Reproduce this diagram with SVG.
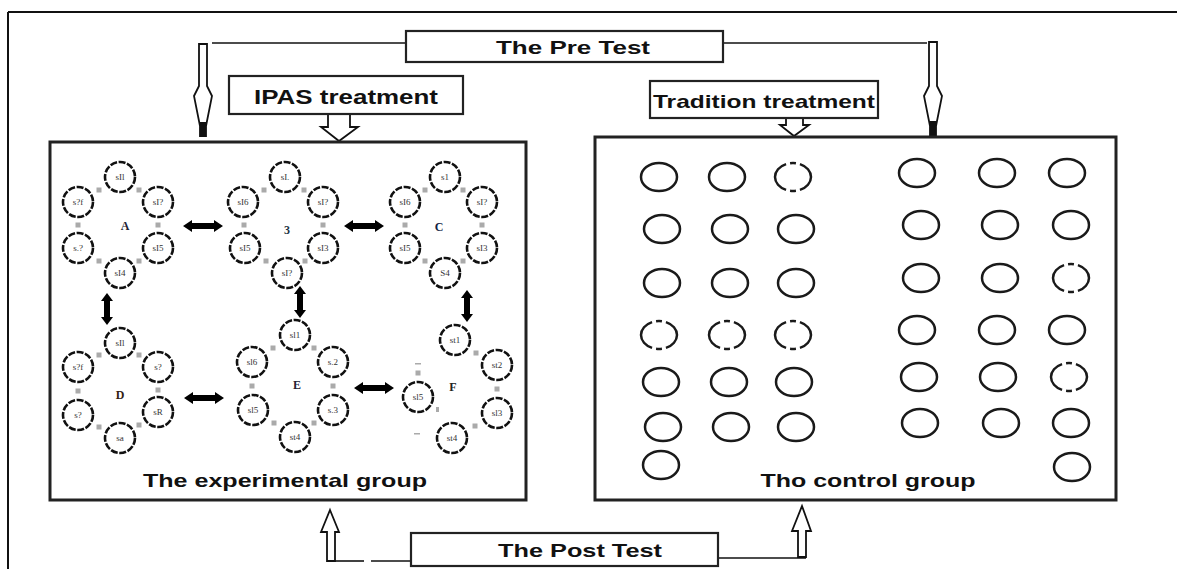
<svg xmlns="http://www.w3.org/2000/svg" width="1177" height="569" viewBox="0 0 1177 569">
<style>
.frame{fill:none;stroke:#111;stroke-width:2}
.box{fill:#fff;stroke:#222;stroke-width:2.2}
.grp{fill:none;stroke:#222;stroke-width:3}
.lbl{font-family:"Liberation Sans",Arial,sans-serif;font-weight:bold;fill:#111}
.hollow{fill:#fff;stroke:#111;stroke-width:1.8;stroke-linejoin:miter}
.line{fill:none;stroke:#111;stroke-width:1.6}
.stu{fill:#fff;stroke:#111;stroke-width:2.6;stroke-dasharray:7 1.6}
.sl{font-family:"Liberation Serif","Times New Roman",serif;font-size:9px;fill:#333;text-anchor:middle}
.let{font-family:"Liberation Serif","Times New Roman",serif;font-size:12px;font-weight:bold;text-anchor:middle}
.gs{fill:#aaa}
.dbl{fill:#000}
.ctl{fill:none;stroke:#1a1a1a;stroke-width:2.5}
.dash{stroke-dasharray:18 4 6 4 36 4 6 4 18}
</style>
<defs>
<path id="hdbl" d="M-20,0 L-11,-6 L-11,-3 L11,-3 L11,-6 L20,0 L11,6 L11,3 L-11,3 L-11,6 Z"/>
<path id="vdbl" d="M0,-16 L-6,-8 L-3,-8 L-3,8 L-6,8 L0,16 L6,8 L3,8 L3,-8 L6,-8 Z"/>
<rect id="sq" x="-2.5" y="-2.5" width="5" height="5"/>
</defs>
<rect width="1177" height="569" fill="#fff"/>
<g id="frame">
<line class="frame" x1="8" y1="12" x2="1177" y2="12"/>
<line class="frame" x1="8" y1="12" x2="8" y2="569"/>
</g>

<g id="connectors">
<polyline class="line" points="406,43 212,43"/>
<polyline class="line" points="723,43 927,43"/>
<polygon class="hollow" points="199,44 207,44 207,86 212,96 206,126 206,136 200,136 200,126 194,96 199,86"/>
<rect x="200" y="122" width="6" height="14" fill="#111"/>
<polygon class="hollow" points="929,42 937,42 937,86 942,96 936,126 936,135 930,135 930,126 924,96 929,86"/>
<rect x="930" y="121" width="6" height="14" fill="#111"/>
<polygon class="hollow" points="328,114 350,114 350,127 358,127 339,141 321,127 328,127"/>
<polygon class="hollow" points="786,118 803,118 803,125 809,125 794,136 780,125 786,125"/>
<polygon class="hollow" points="330,510 339,532 335,532 335,561 327,561 327,532 321,532"/>
<polygon class="hollow" points="802,506 811,531 806,531 806,557 798,557 798,531 792,531"/>
<polyline class="line" points="335,561 364,561"/>
<polyline class="line" points="371,561 411,561"/>
<polyline class="line" points="718,558 806,558"/>
<use href="#hdbl" class="dbl" x="203" y="226"/>
<use href="#hdbl" class="dbl" x="364" y="226"/>
<use href="#hdbl" class="dbl" x="204" y="398"/>
<use href="#hdbl" class="dbl" x="374" y="388"/>
<use href="#vdbl" class="dbl" x="107" y="309"/>
<use href="#vdbl" class="dbl" x="300" y="302"/>
<use href="#vdbl" class="dbl" x="467" y="306"/>
</g>

<g id="pre-test">
<rect class="box" x="406" y="31" width="317" height="31"/>
<text class="lbl" x="573" y="54" font-size="19" text-anchor="middle" textLength="154" lengthAdjust="spacingAndGlyphs">The Pre Test</text>
</g>
<g id="ipas-treatment">
<rect class="box" x="229" y="76" width="234" height="38"/>
<text class="lbl" x="346" y="104" font-size="20" text-anchor="middle" textLength="184" lengthAdjust="spacingAndGlyphs">IPAS treatment</text>
</g>
<g id="tradition-treatment">
<rect class="box" x="650" y="81" width="228" height="37"/>
<text class="lbl" x="764" y="108" font-size="19" font-weight="normal" text-anchor="middle" textLength="222" lengthAdjust="spacingAndGlyphs" style="font-weight:600">Tradition treatment</text>
</g>
<g id="post-test">
<rect class="box" x="411" y="533" width="307" height="33"/>
<text class="lbl" x="580" y="557" font-size="19" text-anchor="middle" textLength="164" lengthAdjust="spacingAndGlyphs">The Post Test</text>
</g>

<g id="experimental-group">
<rect class="grp" x="50" y="142" width="476" height="358"/>
<text class="lbl" x="285" y="487" font-size="19" text-anchor="middle" textLength="284" lengthAdjust="spacingAndGlyphs">The experimental group</text>
</g>

<g id="cluster-A">
<g class="gs"><use href="#sq" x="139" y="190"/><use href="#sq" x="158" y="225"/><use href="#sq" x="139" y="261"/><use href="#sq" x="99" y="261"/><use href="#sq" x="78" y="225"/><use href="#sq" x="99" y="190"/></g>
<circle class="stu" cx="120" cy="177" r="15"/><circle class="stu" cx="158" cy="202" r="15"/><circle class="stu" cx="158" cy="248" r="15"/><circle class="stu" cx="120" cy="273" r="15"/><circle class="stu" cx="78" cy="248" r="15"/><circle class="stu" cx="78" cy="202" r="15"/>
<text class="sl" x="120" y="180">sIl</text><text class="sl" x="158" y="205">sI?</text><text class="sl" x="158" y="251">sI5</text><text class="sl" x="120" y="276">sI4</text><text class="sl" x="78" y="251">s.?</text><text class="sl" x="78" y="205">s?f</text>
<text class="let" x="125" y="230" fill="#223">A</text>
</g>
<g id="cluster-B">
<g class="gs"><use href="#sq" x="304" y="190"/><use href="#sq" x="323" y="225"/><use href="#sq" x="305" y="261"/><use href="#sq" x="266" y="261"/><use href="#sq" x="244" y="225"/><use href="#sq" x="264" y="190"/></g>
<circle class="stu" cx="285" cy="177" r="15"/><circle class="stu" cx="323" cy="202" r="15"/><circle class="stu" cx="323" cy="248" r="15"/><circle class="stu" cx="287" cy="273" r="15"/><circle class="stu" cx="245" cy="248" r="15"/><circle class="stu" cx="243" cy="202" r="15"/>
<text class="sl" x="285" y="180">sI.</text><text class="sl" x="323" y="205">sI?</text><text class="sl" x="323" y="251">sI3</text><text class="sl" x="287" y="276">sI?</text><text class="sl" x="245" y="251">sI5</text><text class="sl" x="243" y="205">sI6</text>
<text class="let" x="287" y="234" fill="#234">3</text>
</g>
<g id="cluster-C">
<g class="gs"><use href="#sq" x="463" y="190"/><use href="#sq" x="482" y="225"/><use href="#sq" x="463" y="261"/><use href="#sq" x="425" y="261"/><use href="#sq" x="405" y="225"/><use href="#sq" x="425" y="190"/></g>
<circle class="stu" cx="445" cy="177" r="15"/><circle class="stu" cx="482" cy="202" r="15"/><circle class="stu" cx="482" cy="248" r="15"/><circle class="stu" cx="445" cy="273" r="15"/><circle class="stu" cx="405" cy="248" r="15"/><circle class="stu" cx="405" cy="202" r="15"/>
<text class="sl" x="445" y="180">s1</text><text class="sl" x="482" y="205">sI?</text><text class="sl" x="482" y="251">sI3</text><text class="sl" x="445" y="276">S4</text><text class="sl" x="405" y="251">sI5</text><text class="sl" x="405" y="205">sI6</text>
<text class="let" x="439" y="231" fill="#124">C</text>
</g>
<g id="cluster-D">
<g class="gs"><use href="#sq" x="139" y="355"/><use href="#sq" x="158" y="390"/><use href="#sq" x="139" y="425"/><use href="#sq" x="99" y="427"/><use href="#sq" x="78" y="391"/><use href="#sq" x="99" y="355"/></g>
<circle class="stu" cx="120" cy="343" r="15"/><circle class="stu" cx="158" cy="367" r="15"/><circle class="stu" cx="158" cy="412" r="15"/><circle class="stu" cx="120" cy="438" r="15"/><circle class="stu" cx="78" cy="415" r="15"/><circle class="stu" cx="78" cy="367" r="15"/>
<text class="sl" x="120" y="346">sIl</text><text class="sl" x="158" y="370">s?</text><text class="sl" x="158" y="415">sR</text><text class="sl" x="120" y="441">sa</text><text class="sl" x="78" y="418">s?</text><text class="sl" x="78" y="370">s?f</text>
<text class="let" x="120" y="399" fill="#321">D</text>
</g>
<g id="cluster-E">
<g class="gs"><use href="#sq" x="314" y="348"/><use href="#sq" x="333" y="386"/><use href="#sq" x="314" y="423"/><use href="#sq" x="274" y="423"/><use href="#sq" x="252" y="386"/><use href="#sq" x="273" y="348"/></g>
<circle class="stu" cx="295" cy="335" r="15"/><circle class="stu" cx="333" cy="362" r="15"/><circle class="stu" cx="333" cy="410" r="15"/><circle class="stu" cx="295" cy="437" r="15"/><circle class="stu" cx="253" cy="410" r="15"/><circle class="stu" cx="252" cy="362" r="15"/>
<text class="sl" x="295" y="338">sl1</text><text class="sl" x="333" y="365">s.2</text><text class="sl" x="333" y="413">s.3</text><text class="sl" x="295" y="440">st4</text><text class="sl" x="253" y="413">sl5</text><text class="sl" x="252" y="365">sl6</text>
<text class="let" x="297" y="389" fill="#223">E</text>
</g>
<g id="cluster-F">
<g class="gs"><use href="#sq" x="476" y="353"/><use href="#sq" x="497" y="389"/><use href="#sq" x="475" y="426"/><use href="#sq" x="418" y="373"/><rect x="415" y="363" width="6" height="1.5"/><rect x="436" y="407" width="3" height="5"/><rect x="414" y="433" width="6" height="1.5"/></g>
<circle class="stu" cx="455" cy="340" r="15"/><circle class="stu" cx="497" cy="365" r="15"/><circle class="stu" cx="497" cy="413" r="15"/><circle class="stu" cx="452" cy="438" r="15"/><circle class="stu" cx="418" cy="397" r="15"/>
<text class="sl" x="455" y="343">st1</text><text class="sl" x="497" y="368">st2</text><text class="sl" x="497" y="416">sl3</text><text class="sl" x="452" y="441">st4</text><text class="sl" x="418" y="400">sl5</text>
<text class="let" x="453" y="391" fill="#222">F</text>
</g>

<g id="control-group">
<rect class="grp" x="595" y="137" width="521" height="363"/>
<text class="lbl" x="868" y="487" font-size="19" text-anchor="middle" textLength="215" lengthAdjust="spacingAndGlyphs">Tho control group</text>
<g id="control-students">
<ellipse class="ctl" cx="659" cy="177" rx="18" ry="14"/><ellipse class="ctl" cx="727" cy="177" rx="18" ry="14"/><ellipse class="ctl dash" pathLength="100" cx="793" cy="177" rx="18" ry="14"/>
<ellipse class="ctl" cx="662" cy="229" rx="18" ry="14"/><ellipse class="ctl" cx="730" cy="229" rx="18" ry="14"/><ellipse class="ctl" cx="796" cy="229" rx="18" ry="14"/>
<ellipse class="ctl" cx="662" cy="283" rx="18" ry="14"/><ellipse class="ctl" cx="730" cy="283" rx="18" ry="14"/><ellipse class="ctl" cx="796" cy="283" rx="18" ry="14"/>
<ellipse class="ctl dash" pathLength="100" cx="659" cy="335" rx="18" ry="14"/><ellipse class="ctl dash" pathLength="100" cx="727" cy="335" rx="18" ry="14"/><ellipse class="ctl dash" pathLength="100" cx="793" cy="335" rx="18" ry="14"/>
<ellipse class="ctl" cx="661" cy="382" rx="18" ry="14"/><ellipse class="ctl" cx="729" cy="382" rx="18" ry="14"/><ellipse class="ctl" cx="794" cy="382" rx="18" ry="14"/>
<ellipse class="ctl" cx="663" cy="427" rx="18" ry="14"/><ellipse class="ctl" cx="731" cy="427" rx="18" ry="14"/><ellipse class="ctl" cx="796" cy="427" rx="18" ry="14"/>
<ellipse class="ctl" cx="661" cy="465" rx="18" ry="14"/>
<ellipse class="ctl" cx="917" cy="173" rx="18" ry="14"/><ellipse class="ctl" cx="997" cy="173" rx="18" ry="14"/><ellipse class="ctl" cx="1067" cy="173" rx="18" ry="14"/>
<ellipse class="ctl" cx="921" cy="225" rx="18" ry="14"/><ellipse class="ctl" cx="1000" cy="225" rx="18" ry="14"/><ellipse class="ctl" cx="1071" cy="225" rx="18" ry="14"/>
<ellipse class="ctl" cx="921" cy="278" rx="18" ry="14"/><ellipse class="ctl" cx="1000" cy="278" rx="18" ry="14"/><ellipse class="ctl dash" pathLength="100" cx="1071" cy="278" rx="18" ry="14"/>
<ellipse class="ctl" cx="917" cy="330" rx="18" ry="14"/><ellipse class="ctl" cx="997" cy="330" rx="18" ry="14"/><ellipse class="ctl" cx="1067" cy="330" rx="18" ry="14"/>
<ellipse class="ctl" cx="919" cy="377" rx="18" ry="14"/><ellipse class="ctl" cx="998" cy="377" rx="18" ry="14"/><ellipse class="ctl dash" pathLength="100" cx="1069" cy="377" rx="18" ry="14"/>
<ellipse class="ctl" cx="920" cy="423" rx="18" ry="14"/><ellipse class="ctl" cx="1001" cy="423" rx="18" ry="14"/><ellipse class="ctl" cx="1071" cy="423" rx="18" ry="14"/>
<ellipse class="ctl" cx="1072" cy="467" rx="18" ry="14"/>
</g>
</g>
</svg>
